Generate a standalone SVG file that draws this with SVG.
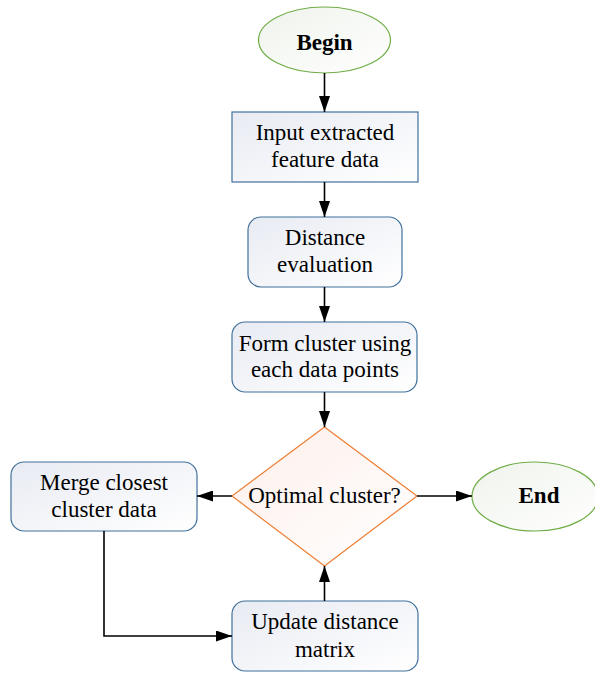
<svg xmlns="http://www.w3.org/2000/svg" width="595" height="673" viewBox="0 0 595 673">
<defs>
<linearGradient id="gb" x1="0" y1="0" x2="1" y2="1"><stop offset="0" stop-color="#e8ebf3"/><stop offset="1" stop-color="#ffffff"/></linearGradient>
<linearGradient id="gg" x1="0" y1="0" x2="1" y2="1"><stop offset="0" stop-color="#eff3ec"/><stop offset="1" stop-color="#ffffff"/></linearGradient>
<linearGradient id="go" x1="0" y1="0" x2="1" y2="1"><stop offset="0" stop-color="#fdefea"/><stop offset="1" stop-color="#ffffff"/></linearGradient>
<marker id="ah" viewBox="0 0 16 11" refX="16" refY="5.5" markerWidth="16" markerHeight="11" markerUnits="userSpaceOnUse" orient="auto"><path d="M0,0 L16,5.5 L0,11 z" fill="#000"/></marker>
</defs>
<style>
text{font-family:"Liberation Serif","Times New Roman","DejaVu Serif",serif;font-size:23px;fill:#000;text-anchor:middle}
.b{font-weight:bold}
.box{fill:url(#gb);stroke:#41719c;stroke-width:1.2}
.term{fill:url(#gg);stroke:#70ad47;stroke-width:1.2}
.dec{fill:url(#go);stroke:#ed7d31;stroke-width:1.2}
.c{fill:none;stroke:#000;stroke-width:1.6;marker-end:url(#ah)}
</style>
<g id="begin"><ellipse class="term" cx="324.5" cy="40" rx="66" ry="33"/><text class="b" x="324.5" y="50">Begin</text></g>
<g id="input"><rect class="box" x="232" y="112" width="186" height="70"/><text x="325" y="140">Input extracted</text><text x="325" y="167">feature data</text></g>
<g id="distance"><rect class="box" x="248" y="217" width="154" height="70" rx="13"/><text x="325" y="245">Distance</text><text x="325" y="272">evaluation</text></g>
<g id="form"><rect class="box" x="232" y="322" width="185" height="70" rx="13"/><text x="325" y="351">Form cluster using</text><text x="325" y="377">each data points</text></g>
<g id="optimal"><polygon class="dec" points="324.5,427 417,496 324.5,566 232,496"/><text x="324.5" y="503">Optimal cluster?</text></g>
<g id="merge"><rect class="box" x="11" y="462" width="186" height="69" rx="13"/><text x="104" y="490">Merge closest</text><text x="104" y="517">cluster data</text></g>
<g id="update"><rect class="box" x="232" y="601" width="186" height="70" rx="13"/><text x="325" y="629">Update distance</text><text x="325" y="657">matrix</text></g>
<g id="end"><ellipse class="term" cx="535" cy="496.5" rx="63" ry="34.5"/><text class="b" x="539" y="503">End</text></g>
<g id="connectors">
<path class="c" d="M324.5,73 V112"/>
<path class="c" d="M324.5,182 V217"/>
<path class="c" d="M324.5,287 V322"/>
<path class="c" d="M324.5,392 V427"/>
<path class="c" d="M232,496 H197"/>
<path class="c" d="M417,496 H472"/>
<path class="c" d="M104,531 V636 H232"/>
<path class="c" d="M324.5,601 V566"/>
</g>
</svg>
